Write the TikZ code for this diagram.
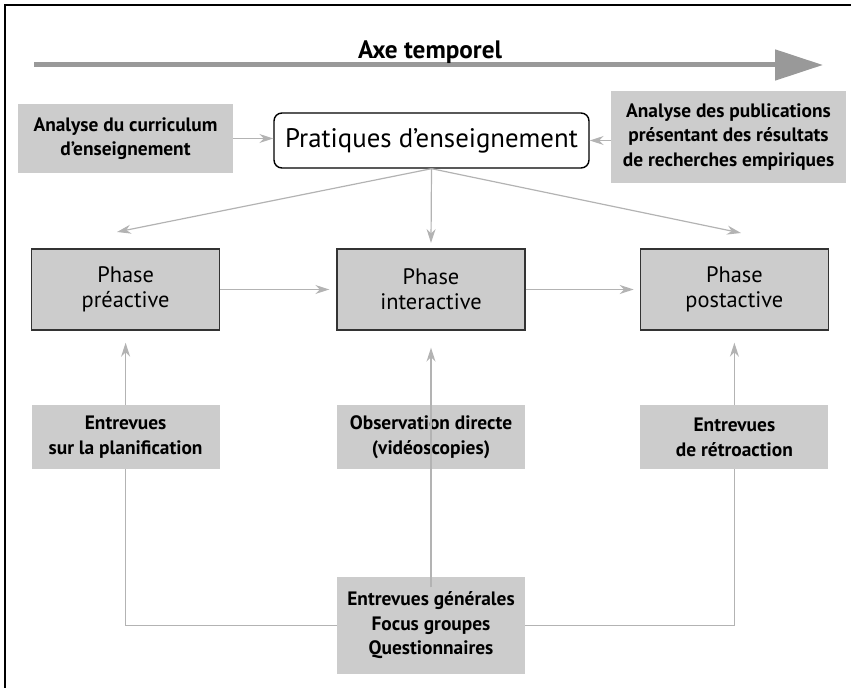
\documentclass[tikz,border=0pt]{standalone}
\usepackage{fontspec}
\setmainfont{PT Sans}
\usetikzlibrary{arrows.meta,positioning}
\definecolor{boxgrey}{HTML}{CCCCCC}
\definecolor{linkgrey}{HTML}{B3B3B3}
\definecolor{axisgrey}{HTML}{999999}
\definecolor{edgegrey}{HTML}{333333}

\begin{document}
\begin{tikzpicture}[
  x=0.5pt, y=-0.5pt,
  every node/.style={inner sep=0pt, align=center},
  greybox/.style={fill=boxgrey, font=\bfseries\fontsize{9.7}{12.3}\selectfont},
  phasebox/.style={fill=boxgrey, draw=edgegrey, line width=0.7pt,
    minimum width=94pt, minimum height=40.5pt, font=\fontsize{11.2}{12.5}\selectfont},
  methodbox/.style={greybox, minimum width=94pt, minimum height=32pt},
  link/.style={draw=linkgrey, line width=0.6pt, -{Stealth[length=7pt,width=4.5pt]}},
  wire/.style={draw=linkgrey, line width=0.6pt}
]
\useasboundingbox (0,0) rectangle (851,688);
\draw[line width=1pt] (5,688) -- (5,5) -- (851,5);

\coordinate (tstart) at (34,65);
\coordinate (tend) at (823,65);
\draw[axisgrey, line width=2.5pt, -{Triangle[length=24pt,width=15pt]}] (tstart) -- (tend);
\node[anchor=base, font=\bfseries\fontsize{12.6}{14}\selectfont] (axe) at (430,59) {Axe temporel};

\node[greybox, minimum width=107.5pt, minimum height=34.5pt] (curr) at (125.5,138.5)
  {Analyse du curriculum\\d’enseignement};
\node[draw, rounded corners=4pt, line width=0.7pt, fill=white, minimum width=157.5pt,
  minimum height=27.5pt, font=\fontsize{13.4}{15}\selectfont] (prat) at (431.5,140.5)
  {Pratiques d’enseignement};
\node[greybox, minimum width=117.5pt, minimum height=46pt] (pub) at (728.5,137)
  {Analyse des publications\\présentant des résultats\\de recherches empiriques};

\node[phasebox] (inter) at (431,289.5) {Phase\\interactive};
\node[phasebox, left=58pt of inter] (pre) {Phase\\préactive};
\node[phasebox, right=57pt of inter] (post) {Phase\\postactive};

\node[methodbox, below=37pt of pre] (plan) {Entrevues\\sur la planification};
\node[methodbox, below=37pt of inter] (obs) {Observation directe\\(vidéoscopies)};
\node[methodbox, below=37pt of post] (retro) {Entrevues\\de rétroaction};
\node[greybox, minimum width=94pt, minimum height=48.5pt, below=53.5pt of obs] (gen)
  {Entrevues générales\\Focus groupes\\Questionnaires};

\coordinate (tpre) at (117,232);
\coordinate (tinter) at (431,243);
\coordinate (tpost) at (741,233);

\draw[link] (curr.east) -- (curr.east -| prat.west);
\draw[link] (prat.east -| pub.west) -- (prat.east);
\draw[link] (prat.south) -- (tpre);
\draw[link] (prat.south) -- (tinter);
\draw[link] (prat.south) -- (tpost);
\draw[link, shorten >=3.5pt] (pre.east) -- (inter.west);
\draw[link, shorten >=3pt] (inter.east) -- (post.west);
\draw[link, shorten >=6pt] (plan.north) -- (pre.south);
\draw[link, shorten >=8.5pt] ([yshift=-5.5pt]gen.north) -- (inter.south);
\draw[link, shorten >=6pt] (retro.north) -- (post.south);
\draw[wire] (plan.south) |- (gen.west);
\draw[wire] (retro.south) |- (gen.east);
\end{tikzpicture}
\end{document}
